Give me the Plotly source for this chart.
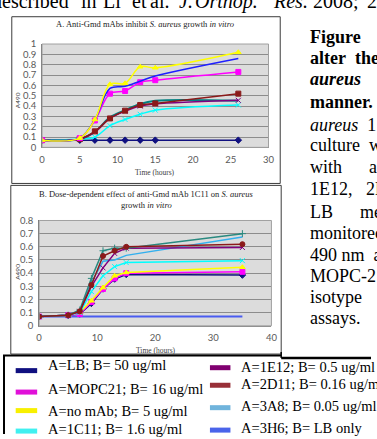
import plotly.graph_objects as go

W, H = 377, 439

# ---------------- data ----------------
time_a = [0, 5, 7, 9, 11, 13, 15, 26]
a_lb = [0.07, 0.07, 0.07, 0.07, 0.07, 0.07, 0.07, 0.07]
a_mopc21 = [0.07, 0.09, 0.26, 0.52, 0.545, 0.63, 0.65, 0.73]
a_nomab = [0.07, 0.09, 0.27, 0.61, 0.62, 0.78, 0.77, 0.92]
a_1c11 = [0.07, 0.08, 0.10, 0.21, 0.27, 0.32, 0.36, 0.41]
a_1e12 = [0.07, 0.08, 0.15, 0.28, 0.35, 0.40, 0.42, 0.455]
a_2d11 = [0.07, 0.08, 0.155, 0.28, 0.355, 0.41, 0.425, 0.52]
a_3a8 = [0.07, 0.08, 0.15, 0.29, 0.36, 0.42, 0.45, 0.45]
a_3h6 = [0.07, 0.09, 0.27, 0.57, 0.59, 0.64, 0.69, 0.86]

time_b = [0, 5, 7, 9, 11, 13, 15, 35]
b_50 = [0.07, 0.08, 0.09, 0.17, 0.28, 0.355, 0.39, 0.385]
b_16 = [0.07, 0.08, 0.09, 0.18, 0.28, 0.36, 0.40, 0.41]
b_5 = [0.07, 0.08, 0.10, 0.19, 0.29, 0.38, 0.405, 0.445]
b_1p6 = [0.07, 0.08, 0.10, 0.26, 0.38, 0.45, 0.48, 0.495]
b_0p5 = [0.07, 0.08, 0.11, 0.30, 0.44, 0.55, 0.59, 0.595]
b_0p16 = [0.07, 0.08, 0.11, 0.31, 0.53, 0.57, 0.60, 0.62]
b_0p05 = [0.07, 0.08, 0.11, 0.33, 0.49, 0.50, 0.535, 0.675]
b_extra = [0.07, 0.08, 0.12, 0.36, 0.57, 0.59, 0.59, 0.70]
b_lbonly = [0.07, 0.07, 0.07, 0.07, 0.07, 0.07, 0.07, 0.07]

y_ticks_a = [0, 0.1, 0.2, 0.3, 0.4, 0.5, 0.6, 0.7, 0.8, 0.9, 1.0]
y_labels_a = ["0", "0.1", "0.2", "0.3", "0.4", "0.5", "0.6", "0.7", "0.8", "0.9", "1"]
x_ticks_a = [0, 5, 10, 15, 20, 25, 30]
y_ticks_b = [0, 0.1, 0.2, 0.3, 0.4, 0.5, 0.6, 0.7, 0.8]
y_labels_b = ["0", "0.1", "0.2", "0.3", "0.4", "0.5", "0.6", "0.7", "0.8"]
x_ticks_b = [0, 10, 20, 30, 40]

legend_left = ["A=LB; B= 50 ug/ml", "A=MOPC21; B= 16 ug/ml",
               "A=no mAb; B= 5 ug/ml", "A=1C11; B= 1.6 ug/ml"]
legend_left_colors = ["#101080", "#e010d8", "#f8f000", "#40f0f0"]
legend_right = ["A=1E12; B= 0.5 ug/ml", "A=2D11; B= 0.16 ug/ml",
                "A=3A8; B= 0.05 ug/ml", "A=3H6; B= LB only"]
legend_right_colors = ["#800070", "#983038", "#70b4dc", "#4a64ea"]

top_words = ["described", "in", "Li", "et", "al.", "<i>J.</i>", "<i>Orthop.</i>",
             "<i>Res.</i>", "2008;", "26"]
top_word_x = [-12, 79, 101, 131, 150, 179, 196, 276, 317, 372]

side_lines = [
    "<b>Figure</b>",
    "<b>alter&nbsp;&nbsp;the&nbsp;&nbsp;ability</b>",
    "<b><i>aureus</i>&nbsp;&nbsp;&nbsp;&nbsp;&nbsp;growth</b>",
    "<b>manner.</b>",
    "<i>aureus</i>&nbsp;&nbsp;1&nbsp;x&nbsp;10",
    "culture&nbsp;&nbsp;was",
    "with&nbsp;&nbsp;&nbsp;&nbsp;&nbsp;&nbsp;an",
    "1E12,&nbsp;&nbsp;&nbsp;2D11",
    "LB&nbsp;&nbsp;&nbsp;&nbsp;&nbsp;&nbsp;medium",
    "monitored",
    "490&nbsp;nm&nbsp;&nbsp;at",
    "MOPC-21",
    "isotype",
    "assays.",
]
side_y = [32, 53, 75, 98, 122, 143, 165, 188, 211, 233, 255, 277, 298, 320]

# ---------------- helpers ----------------
def X(px):
    return px / W

def Y(py):
    return 1 - py / H

fig = go.Figure()

NAVY, MAG, YEL, CYA, PUR, MAR, TEAL, BLU, LBLU = (
    "#101080", "#ff00ff", "#ffff00", "#00ffff", "#800080", "#8b1a1a", "#008080", "#1f1fff", "#33b0ee")

def add(x, y, color, symbol, ax, shape, size=5, width=1.5):
    mode = "lines+markers" if symbol else "lines"
    fig.add_trace(go.Scatter(
        x=x, y=y, mode=mode, line=dict(color=color, width=width, shape=shape),
        marker=dict(symbol=symbol or "circle", size=size, color=color,
                    line=dict(color=color, width=1)),
        xaxis="x" if ax == 1 else "x2", yaxis="y" if ax == 1 else "y2",
        showlegend=False, hoverinfo="skip"))

# chart A (smoothed lines)
add(time_a, a_lb, NAVY, "diamond", 1, "spline")
add(time_a, a_1c11, CYA, "x-thin-open", 1, "spline")
add(time_a, a_3a8, TEAL, None, 1, "spline", width=2)
add(time_a, a_1e12, PUR, "x-thin-open", 1, "spline")
add(time_a, a_2d11, MAR, "square", 1, "spline")
add(time_a, a_mopc21, MAG, "square", 1, "spline")
add(time_a, a_3h6, BLU, None, 1, "spline")
add(time_a, a_nomab, YEL, "triangle-up", 1, "spline")

# chart B (straight lines)
add(time_b, b_lbonly, "#4a5cf0", None, 2, "linear", width=2)
add(time_b, b_50, NAVY, "diamond", 2, "linear")
add(time_b, b_16, MAG, "square", 2, "linear")
add(time_b, b_5, YEL, "triangle-up", 2, "linear")
add(time_b, b_1p6, CYA, "x-thin-open", 2, "linear")
add(time_b, b_0p05, LBLU, None, 2, "linear")
add(time_b, b_0p5, PUR, "x-thin-open", 2, "linear")
add(time_b, b_extra, "#2a8a80", "cross-thin-open", 2, "linear")
add(time_b, b_0p16, MAR, "circle", 2, "linear")

tickfont = dict(family="Lato, Carlito, sans-serif", size=9.5, color="#595959")
common = dict(zeroline=False, showline=True, linewidth=1, tickfont=tickfont,
              ticks="outside", ticklen=3, tickcolor="rgba(0,0,0,0)", fixedrange=True)

fig.update_layout(
    width=W, height=H, autosize=False,
    margin=dict(l=0, r=0, t=0, b=0),
    paper_bgcolor="white", plot_bgcolor="#dcdcdc",
    xaxis=dict(domain=[X(40), X(272)], range=[0, 30], tickvals=x_ticks_a,
               showgrid=False, linecolor="#8c8c8c", anchor="y", **common),
    yaxis=dict(domain=[Y(145), Y(39)], range=[0, 1.0], tickvals=y_ticks_a,
               ticktext=y_labels_a, showgrid=True, gridcolor="#8c8c8c", gridwidth=1.2,
               linecolor="#6e6e6e", anchor="x", **common),
    xaxis2=dict(domain=[X(37), X(275)], range=[0, 40], tickvals=x_ticks_b,
                showgrid=False, linecolor="#8c8c8c", anchor="y2", **common),
    yaxis2=dict(domain=[Y(328), Y(220)], range=[0, 0.8], tickvals=y_ticks_b,
                ticktext=y_labels_b, showgrid=True, gridcolor="#8c8c8c", gridwidth=1.2,
                linecolor="#6e6e6e", anchor="x2", **common),
)

shapes = []
def rect(x0, y0, x1, y1, color, width=1):
    shapes.append(dict(type="rect", xref="paper", yref="paper",
                       x0=X(x0), x1=X(x1), y0=Y(y1), y1=Y(y0),
                       line=dict(color=color, width=width),
                       fillcolor="rgba(0,0,0,0)"))

def line(x0, y0, x1, y1, color, width=1):
    shapes.append(dict(type="line", xref="paper", yref="paper",
                       x0=X(x0), x1=X(x1), y0=Y(y0), y1=Y(y1),
                       line=dict(color=color, width=width)))

# chart frames
rect(9, 11, 284, 182, "#3c3c3c", 1)
rect(8, 184, 285, 357, "#3c3c3c", 1)
# plot-area borders
rect(40, 39, 272, 145, "#a0a0a0", 1)
rect(37, 220, 275, 328, "#a0a0a0", 1)
# legend frame
line(0, 358.5, 285, 358.5, "black", 2)
line(285, 355, 285, 361, "black", 1.5)
line(285, 361, 377, 361, "black", 2.5)
line(1, 358, 1, 439, "black", 2)

# legend swatches
left_sw_y = [374, 396, 415, 436]
right_sw_y = [371, 389, 412, 435]
for c, yy in zip(legend_left_colors, left_sw_y):
    line(13, yy, 35, yy, c, 5)
for c, yy in zip(legend_right_colors, right_sw_y):
    line(212, yy, 233, yy, c, 5)

fig.update_layout(shapes=shapes)

ann = []
def text(x, y, s, size, family="Liberation Serif, Times New Roman, serif",
         color="black", xanchor="left", angle=0):
    ann.append(dict(x=X(x), y=Y(y), xref="paper", yref="paper", text=s,
                    showarrow=False, xanchor=xanchor, yanchor="middle",
                    textangle=angle, font=dict(family=family, size=size, color=color),
                    borderpad=0, align="left"))

# top clipped text (only its lower part shows)
for w, xx in zip(top_words, top_word_x):
    text(xx, -5, w, 20)

# chart titles
text(145, 18, "A. Anti-Gmd mAbs inhibit <i>S. aureus</i> growth <i>in vitro</i>", 8.5,
     xanchor="center", color="#222222")
text(147, 193, "B. Dose-dependent effect of anti-Gmd mAb 1C11 on <i>S. aureus</i>", 8.5,
     xanchor="center", color="#222222")
text(147, 204, "growth <i>in vitro</i>", 8.5, xanchor="center", color="#222222")

# axis titles
text(156, 171, "Time (hours)", 7.5, xanchor="center", color="#404040")
text(157, 353, "Time (hours)", 7.5, xanchor="center", color="#404040")
text(15, 97, "A490", 6.5, family="Lato, sans-serif", xanchor="center", angle=-90,
     color="#404040")
text(15, 273, "A490", 6.5, family="Lato, sans-serif", xanchor="center", angle=-90,
     color="#404040")

# side text column
for s, yy in zip(side_lines, side_y):
    text(313, yy, s, 18)

# legend text
left_tx_y = [368, 393, 415, 434]
right_tx_y = [370, 388, 410, 433]
for s, yy in zip(legend_left, left_tx_y):
    text(45, yy, s, 14.5)
for s, yy in zip(legend_right, right_tx_y):
    text(243, yy, s, 14.5)

fig.update_layout(annotations=ann)
fig.write_html("out.html")
